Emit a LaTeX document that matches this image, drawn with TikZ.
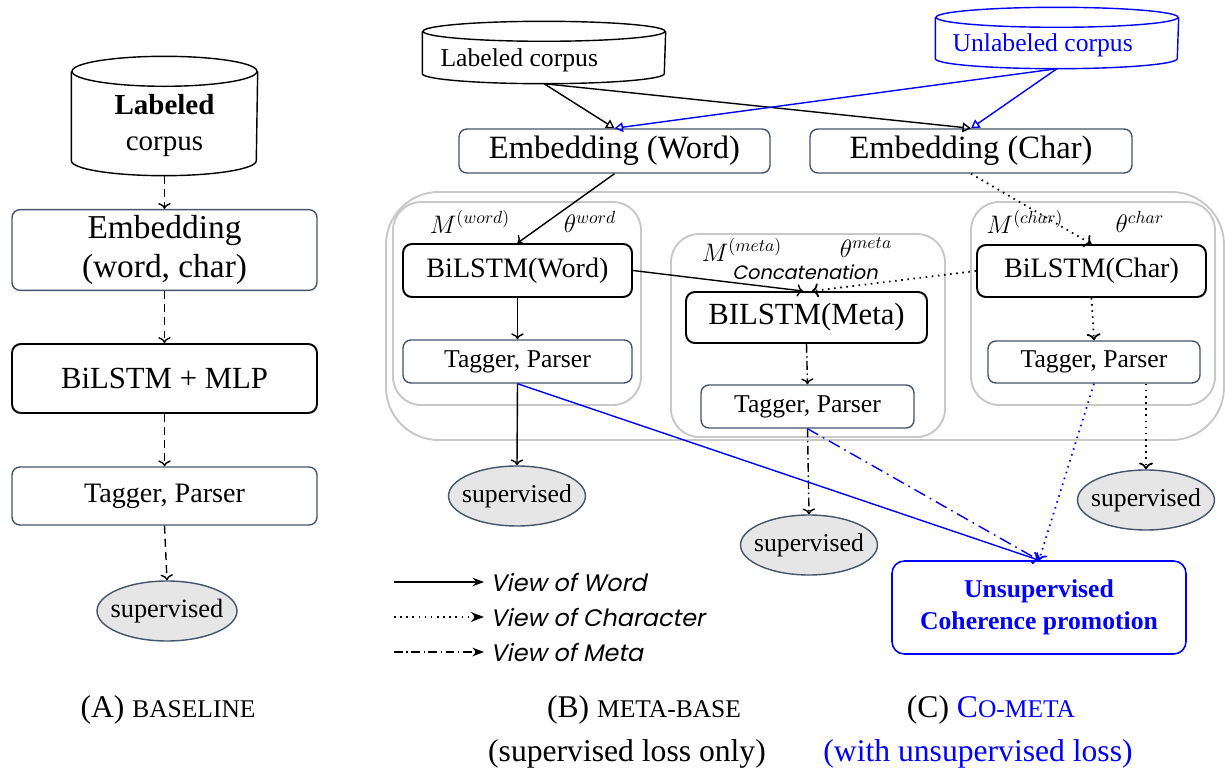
\documentclass[tikz,border=0pt]{standalone}
\usepackage{amsmath}
\usepackage{fontspec}
\setmainfont{Liberation Serif}
\newfontfamily\legfont{Poppins}[FakeSlant=0.2]
\usetikzlibrary{shapes.geometric, arrows.meta}
\definecolor{boxgray}{HTML}{44546A}
\definecolor{fillgray}{HTML}{E6E6E6}
\definecolor{framegray}{HTML}{C8C8C8}
\newcommand{\fsz}[2]{\fontsize{#1}{#2}\selectfont}
\newcommand{\scs}[1]{{\fsz{14.5}{16}#1}}
% cylinder outline round a node: name, x radius, y radius, colour
\newcommand{\dbcyl}[4]{%
    \draw[#4, line width=0.8pt] ([yshift=-#3]#1.north) ellipse [x radius=#2, y radius=#3];
    \draw[#4, line width=0.8pt] ([yshift=-#3]#1.north west) -- ([yshift=#3]#1.south west)
        arc[start angle=180, end angle=360, x radius=#2, y radius=#3] -- ([yshift=-#3]#1.north east);}

\begin{document}
\begin{tikzpicture}[x=0.02cm, y=-0.02cm, thick,
        embbox/.style={draw=boxgray, line width=0.8pt, rounded corners=4.5pt},
        lstmbox/.style={draw=black, line width=1.1pt, rounded corners=5pt},
        frame/.style={draw=framegray, line width=1.1pt, rounded corners=16pt},
        sup/.style={ellipse, draw=boxgray, line width=0.8pt, fill=fillgray, inner xsep=-6pt, inner ysep=0pt, minimum width=2.74cm, minimum height=1.2cm, font=\fsz{14.6}{16}},
        dashA/.style={dash pattern=on 4.5pt off 3pt},
        dashdot/.style={dash pattern=on 5pt off 2pt on 0.8pt off 2pt},
        dots/.style={line width=1pt, dash pattern=on 0.9pt off 2.6pt},
        leg/.style={anchor=west, font=\legfont\fsz{13.6}{15}},
        every node/.style={font=\fsz{14.6}{17}}]
        \useasboundingbox (0, 0) rectangle (1225, 770);

        % (A) baseline
        \node[minimum width=3.7cm, minimum height=2.36cm, inner sep=0pt] (labA) at (164.5, 116) {};
        \dbcyl{labA}{1.85cm}{0.3cm}{black}
        \node[align=center, font=\fsz{16.5}{20.5}] (labAt) at (164.5, 126) {\textbf{Labeled}\\corpus};
        \node[embbox, minimum width=6.1cm, minimum height=1.48cm, align=center, font=\fsz{19}{22}] (embA) at (164.5, 250) {Embedding\\(word, char)};
        \node[lstmbox, minimum width=6.1cm, minimum height=1.38cm, font=\fsz{17.5}{20}] (bilA) at (164.5, 378.5) {BiLSTM + MLP};
        \node[embbox, minimum width=6.1cm, minimum height=1.16cm, font=\fsz{16}{19}] (tagA) at (164.5, 496) {Tagger, Parser};
        \node[sup, minimum width=2.8cm, font=\fsz{15}{17}] (supA) at (167, 611) {supervised};
        \draw[dashA, ->] (labA.south) -- (embA.north);
        \draw[dashA, ->] (embA.south) -- (bilA.north);
        \draw[dashA, ->] (bilA.south) -- (tagA.north);
        \draw[dashA, ->] (tagA.south) -- (supA.north);

        % (B) and (C): corpora and embeddings
        \node[minimum width=4.84cm, minimum height=1.22cm, inner sep=0pt] (labB) at (544, 52.5) {};
        \dbcyl{labB}{2.42cm}{0.2cm}{black}
        \node[anchor=west] (labBt) at (434, 60) {Labeled corpus};
        \node[minimum width=4.84cm, minimum height=1.2cm, inner sep=0pt] (unlab) at (1057, 38) {};
        \dbcyl{unlab}{2.42cm}{0.2cm}{blue}
        \node[anchor=west, text=blue] (unlabt) at (946, 45) {Unlabeled corpus};
        \node[embbox, minimum width=6.22cm, minimum height=0.88cm, font=\fsz{18.5}{20}] (embW) at (614.5, 151) {Embedding (Word)};
        \node[embbox, minimum width=6.44cm, minimum height=0.88cm, font=\fsz{18.5}{20}] (embC) at (971, 151) {Embedding (Char)};
        \draw[-{Triangle[open]}] (labB.south) -- (embW.north);
        \draw[-{Triangle[open]}] (labB.south) -- (embC.north);
        \draw[blue, -{Triangle[open]}] (unlab.south) -- (embW.north);
        \draw[blue, -{Triangle[open]}] (unlab.south) -- (embC.north);

        % frames
        \draw[frame, rounded corners=30pt] (386, 192) rectangle (1224, 440);
        \draw[frame] (393, 202) rectangle (641, 405);
        \draw[frame] (671, 234) rectangle (945, 437);
        \draw[frame] (971, 202) rectangle (1215, 405);

        % word view
        \node (mw) at (470, 222) {\(\fsz{18}{20}M^{(word)}\)};
        \node (tw) at (590, 222) {\(\fsz{18}{20}\theta^{word}\)};
        \node[lstmbox, minimum width=4.58cm, minimum height=1.06cm, font=\fsz{16}{18}] (bilW) at (517.5, 270.5) {BiLSTM(Word)};
        \node[embbox, minimum width=4.58cm, minimum height=0.86cm] (tagW) at (517.5, 361.5) {Tagger, Parser};
        \node[sup] (supW) at (517, 496) {supervised};

        % meta view
        \node (mm) at (742, 250) {\(\fsz{18}{20}M^{(meta)}\)};
        \node (tm) at (866, 248) {\(\fsz{20}{22}\theta^{meta}\)};
        \node[font=\legfont\fsz{11}{13}] (cc) at (805, 272) {Concatenation};
        \node[lstmbox, minimum width=4.82cm, minimum height=1.02cm, font=\fsz{17.5}{19}] (bilM) at (806.5, 317.5) {BILSTM(Meta)};
        \node[embbox, minimum width=4.26cm, minimum height=0.86cm] (tagM) at (807.5, 406.5) {Tagger, Parser};
        \node[sup] (supM) at (809, 545) {supervised};

        % char view
        \node (mc) at (1025, 222) {\(\fsz{16}{18}M^{(char)}\)};
        \node (tc) at (1140, 222) {\(\fsz{20}{22}\theta^{char}\)};
        \node[lstmbox, minimum width=4.58cm, minimum height=1.04cm, font=\fsz{16}{18}] (bilC) at (1091.5, 271) {BiLSTM(Char)};
        \node[embbox, minimum width=4.24cm, minimum height=0.84cm] (tagC) at (1094, 362) {Tagger, Parser};
        \node[sup] (supC) at (1146, 500) {supervised};

        % unsupervised part
        \node[draw=blue, line width=0.9pt, rounded corners=7pt, minimum width=5.88cm, minimum height=1.86cm, align=center, text=blue, font=\bfseries\fsz{14.6}{18}] (unsup) at (1039, 607.5) {Unsupervised\\Coherence promotion};

        % connectors
        \draw[->] (embW.south) -- (bilW.north);
        \draw[->] (bilW.south) -- (tagW.north);
        \draw[->] (bilW.east) -- ([xshift=-2pt]bilM.north);
        \draw[->] (tagW.south) -- (supW.north);
        \draw[dashdot, ->] (bilM.south) -- (tagM.north);
        \draw[dashdot, ->] (tagM.south) -- (supM.north);
        \draw[dots, ->] (embC.south) -- (bilC.north);
        \draw[dots, ->] (bilC.west) -- ([xshift=3pt]bilM.north);
        \draw[dots, ->] (bilC.south) -- (tagC.north);
        \draw[dots, ->] (tagC.south -| supC.north) -- (supC.north);
        \draw[blue, ->] (tagW.south) -- (unsup.north);
        \draw[blue, dash pattern=on 7pt off 3pt on 1pt off 3pt, ->] (tagM.south) -- (unsup.north);
        \draw[blue, dots, ->] (tagC.south) -- (unsup.north);

        % legend
        \coordinate (l1) at (394, 582);
        \coordinate (l2) at (394, 617);
        \coordinate (l3) at (394, 652);
        \node[leg] (v1) at (484, 582) {View of Word};
        \node[leg] (v2) at (484, 617) {View of Character};
        \node[leg] (v3) at (484, 652) {View of Meta};
        \draw[-Stealth] (l1) -- (v1.west);
        \draw[dots, -Stealth] (l2) -- (v2.west);
        \draw[dashdot, -Stealth] (l3) -- (v3.west);

        % captions
        \node[font=\fsz{18}{20}] (capA) at (168, 710) {(A) \scs{BASELINE}};
        \node[font=\fsz{18}{20}] (capB) at (644, 710) {(B) \scs{META-BASE}};
        \node[font=\fsz{18}{20}] (capC) at (991, 710) {(C) \textcolor{blue}{C\scs{O-META}}};
        \node[font=\fsz{18}{20}] (subB) at (627, 754) {(supervised loss only)};
        \node[font=\fsz{18}{20}, text=blue] (subC) at (978, 754) {(with unsupervised loss)};
    \end{tikzpicture}
\end{document}
